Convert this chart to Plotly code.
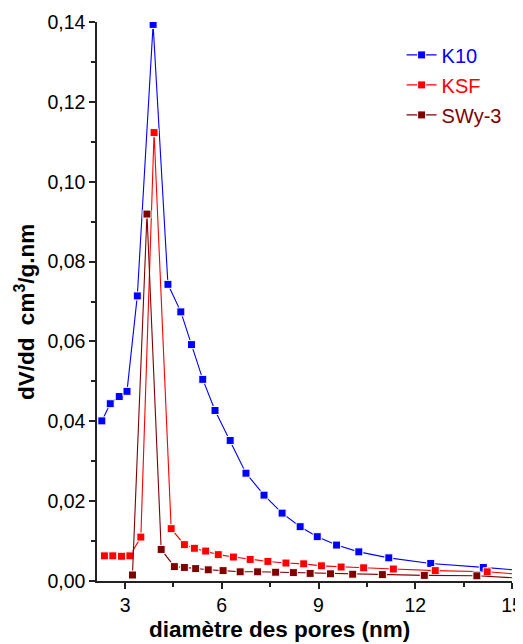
import plotly.graph_objects as go

# K10
k10_x = [2.28, 2.54, 2.82, 3.06, 3.38, 3.87, 4.33, 4.73, 5.06, 5.41, 5.79, 6.26, 6.75, 7.31, 7.87,
         8.43, 8.96, 9.56, 10.25, 11.18, 12.48, 14.11, 16.0]
k10_y = [0.0401, 0.0444, 0.0462, 0.0475, 0.0714, 0.1394, 0.0743, 0.0674, 0.0592, 0.0505, 0.0427,
         0.0352, 0.0270, 0.0215, 0.0170, 0.0136, 0.0111, 0.0090, 0.0073, 0.0058, 0.0044, 0.0034, 0.0022]
# KSF
ksf_x = [2.36, 2.62, 2.89, 3.15, 3.49, 3.90, 4.43, 4.84, 5.15, 5.50, 5.89, 6.36, 6.88, 7.43, 7.99,
         8.54, 9.09, 9.70, 10.40, 11.32, 12.62, 14.23, 16.2]
ksf_y = [0.0063, 0.0063, 0.0062, 0.0063, 0.0110, 0.1123, 0.0131, 0.0091, 0.0082, 0.0075, 0.0066,
         0.0060, 0.0054, 0.0049, 0.0045, 0.0043, 0.0038, 0.0035, 0.0033, 0.0030, 0.0026, 0.0023, 0.0011]
# SWy-3
swy_x = [3.23, 3.68, 4.12, 4.53, 4.84, 5.19, 5.58, 6.04, 6.57, 7.11, 7.67, 8.22, 8.74, 9.37, 10.06,
         10.98, 12.28, 13.91, 16.0]
swy_y = [0.0015, 0.0919, 0.0079, 0.0036, 0.0034, 0.0031, 0.0028, 0.0026, 0.0023, 0.0023, 0.0022,
         0.0021, 0.0019, 0.0018, 0.0017, 0.0016, 0.0014, 0.0013, 0.0004]

x_ticks = [3, 6, 9, 12, 15]
y_ticks = [0, 0.02, 0.04, 0.06, 0.08, 0.10, 0.12, 0.14]
x_title = "diamètre des pores (nm)"
y_title = "dV/dd&nbsp; cm<sup>3</sup>/g.nm"

series = [
    ("K10", k10_x, k10_y, "#0000FF"),
    ("KSF", ksf_x, ksf_y, "#FF0000"),
    ("SWy-3", swy_x, swy_y, "#800000"),
]

fig = go.Figure()
for name, xs, ys, col in series:
    fig.add_trace(go.Scatter(
        x=xs, y=ys, mode="lines+markers",
        name=f"<span style='color:{col}'>{name}</span>",
        legendgroup=name,
        line=dict(color=col, width=1.1),
        marker=dict(symbol="square", size=8, color=col, line=dict(color="white", width=1)),
    ))

font_family = "Liberation Sans, Arial, sans-serif"
axcol = "#222"
fig.update_layout(
    width=515, height=636,
    margin=dict(l=89, r=11, t=14, b=63, autoexpand=False),
    paper_bgcolor="white", plot_bgcolor="white",
    separators=",.",
    font=dict(family=font_family, size=19.5, color="black"),
    showlegend=True,
    legend=dict(x=0.734, y=0.976, xanchor="left", yanchor="top",
                bgcolor="rgba(0,0,0,0)", font=dict(size=20, family=font_family),
                tracegroupgap=1),
    xaxis=dict(
        range=[2.13, 15], tickmode="array", tickvals=x_ticks, automargin=False,
        ticks="outside", ticklen=6, tickwidth=1.5, tickcolor=axcol,
        showline=True, linecolor=axcol, linewidth=1.5, showgrid=False, zeroline=False,
        minor=dict(tickvals=[4.5, 7.5, 10.5, 13.5], ticks="outside", ticklen=4, tickwidth=1.5, tickcolor=axcol),
        tickfont=dict(size=19.5),
    ),
    yaxis=dict(
        range=[0, 0.14], tickmode="array", tickvals=y_ticks, tickformat=".2f", automargin=False,
        ticks="outside", ticklen=6, tickwidth=1.5, tickcolor=axcol,
        showline=True, linecolor=axcol, linewidth=1.5, showgrid=False, zeroline=False,
        minor=dict(tickvals=[0.01, 0.03, 0.05, 0.07, 0.09, 0.11, 0.13], ticks="outside", ticklen=4,
                   tickwidth=1.5, tickcolor=axcol),
        tickfont=dict(size=19.5),
    ),
    annotations=[
        dict(text=f"<b>{x_title}</b>", xref="paper", yref="paper", x=0.4386, y=-0.0859,
             xanchor="center", yanchor="middle", showarrow=False, font=dict(size=22.5)),
        dict(text=f"<b>{y_title}</b>", xref="paper", yref="paper", x=-0.1735, y=0.481,
             xanchor="center", yanchor="middle", textangle=-90, showarrow=False, font=dict(size=22.5)),
    ],
)

fig.write_html("out.html")
